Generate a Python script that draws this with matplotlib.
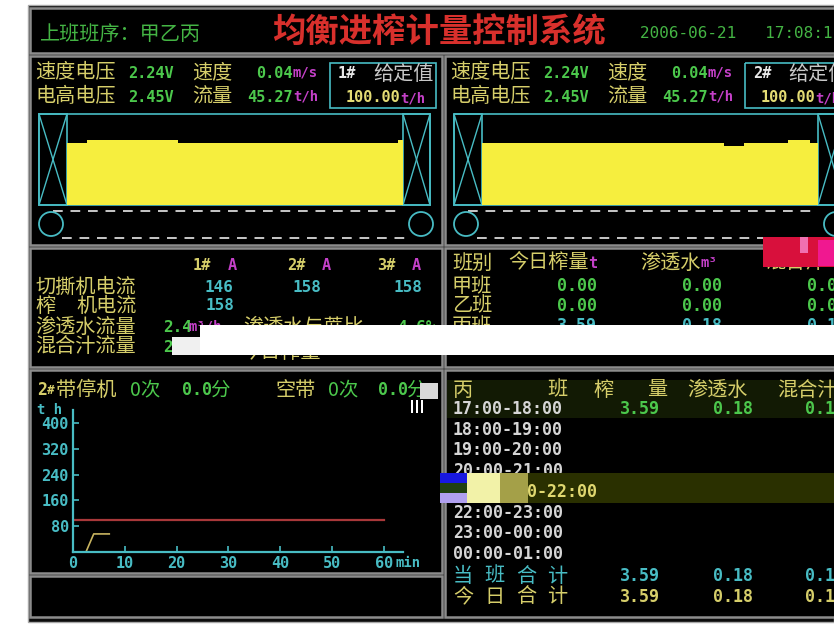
import matplotlib.pyplot as plt
from matplotlib.patches import Rectangle, Circle

plt.rcParams['font.family'] = ['Noto Sans CJK SC', 'DejaVu Sans']

W, H = 834, 626

# ---- data ----
shift_order = "上班班序：甲乙丙"
title = "均衡进榨计量控制系统"
date_time = "2006-06-21   17:08:1"

speed_volt = ["2.24V", "2.24V"]
height_volt = ["2.45V", "2.45V"]
belt_speed = ["0.04", "0.04"]
belt_flow = ["45.27", "45.27"]
set_value = ["100.00", "100.00"]

# belt load profile (position along belt %, load height %)
belt1_edges = [0, 6, 33, 98.5, 100]
belt1_load = [68, 71, 68, 71]
belt2_edges = [0, 72, 78, 91, 97.6, 100]
belt2_load = [68, 65, 68, 71, 68]

cutter_current = ["146", "158", "158"]
mill_current = "158"

shift_names = ["甲班", "乙班", "丙班", "合计"]
shift_cane = ["0.00", "0.00", "3.59", "3.59"]
shift_water = ["0.00", "0.00", "0.18", "0.18"]
shift_juice = ["0.00", "0.00", "0.18", "0.18"]

trend_min = [0, 2.5, 4, 7]
trend_flow = [0, 0, 56, 56]
set_min = [0, 60]
set_flow = [100, 100]

hour_slots = ["17:00-18:00", "18:00-19:00", "19:00-20:00", "20:00-21:00",
              "21:00-22:00", "22:00-23:00", "23:00-00:00", "00:00-01:00"]
hour_cane = ["3.59", "", "", "", "", "", "", ""]
hour_water = ["0.18", "", "", "", "", "", "", ""]
hour_juice = ["0.18", "", "", "", "", "", "", ""]
total_rows = [("当班合计", "3.59", "0.18", "0.18"), ("今日合计", "3.59", "0.18", "0.18")]

YEL = '#d6ce6a'
GRN = '#4cc84c'
MAG = '#c440c8'
CYN = '#48bcc4'
WHT = '#d6d6d6'
RED = '#d8302c'
BELT = '#f6ee3e'

fig = plt.figure(figsize=(W / 100, H / 100), dpi=100)
fig.patch.set_facecolor('white')
ax = fig.add_axes([0, 0, 1, 1])
ax.set_xlim(0, W)
ax.set_ylim(H, 0)
ax.axis('off')


def txt(x, y, s, c, size=14, ha='left', mono=False, z=3, **kw):
    fam = ['DejaVu Sans Mono'] if mono else ['Noto Sans CJK SC', 'DejaVu Sans']
    ax.text(x, y, s, color=c, fontsize=size, ha=ha, va='center', family=fam, zorder=z, **kw)


def panel(x0, y0, x1, y1):
    ax.add_patch(Rectangle((x0, y0), x1 - x0, y1 - y0, facecolor='black',
                           edgecolor='#8c8c8c', lw=1.8, zorder=1))


def inset(x0, y0, x1, y1):
    return fig.add_axes([x0 / W, 1 - y1 / H, (x1 - x0) / W, (y1 - y0) / H])


# outer frame
ax.add_patch(Rectangle((28, 5), W - 28, 617, facecolor='#0c0c0c', edgecolor='#a8a8a8', lw=1, zorder=0))
panel(30, 8, 836, 53)
panel(30, 56, 442, 245)
panel(445, 56, 836, 245)
panel(30, 248, 442, 367)
panel(445, 248, 836, 367)
panel(30, 370, 442, 573)
panel(30, 576, 442, 617)
panel(445, 370, 836, 617)

# header
txt(40, 34, shift_order, '#44b444', 14.5)
txt(272, 32, title, RED, 24, fontweight='bold')
txt(640, 34, date_time, '#44b444', 11.5, mono=True)

# ---- two belt panels ----
for i, (ox, edges, load) in enumerate([(0, belt1_edges, belt1_load), (415, belt2_edges, belt2_load)]):
    txt(35 + ox, 73, "速度电压", YEL, 14.5)
    txt(128 + ox, 73, speed_volt[i], GRN, 11, mono=True, fontweight='bold')
    txt(192 + ox, 73, "速度", YEL, 14.5)
    txt(293 + ox, 73, belt_speed[i], GRN, 11, ha='right', mono=True, fontweight='bold')
    txt(293 + ox, 73, "m/s", MAG, 10, mono=True, fontweight='bold')
    txt(35 + ox, 97, "电高电压", YEL, 14.5)
    txt(128 + ox, 97, height_volt[i], GRN, 11, mono=True, fontweight='bold')
    txt(192 + ox, 97, "流量", YEL, 14.5)
    txt(293 + ox, 97, belt_flow[i], GRN, 11, ha='right', mono=True, fontweight='bold')
    txt(293 + ox, 97, "t/h", MAG, 10, mono=True, fontweight='bold')
    ax.add_patch(Rectangle((330 + ox, 63), 106, 45, fill=False, ec=CYN, lw=1.2, zorder=2))
    txt(338 + ox, 74, f"{i + 1}#", '#e8e8e8', 11, mono=True, fontweight='bold')
    txt(373 + ox, 74, "给定值", '#c8c8c8', 14.5)
    txt(400 + ox, 98, set_value[i], '#e4dc74', 11, ha='right', mono=True, fontweight='bold')
    txt(400 + ox, 98, "t/h", MAG, 10, mono=True, fontweight='bold')

    # conveyor frame
    x0, x1 = 39 + ox, 430 + ox
    ax.add_patch(Rectangle((x0, 114), x1 - x0, 91, fill=False, ec=CYN, lw=1.2, zorder=2))
    for a, b in [(x0, x0 + 28), (x1 - 27, x1)]:
        ax.add_patch(Rectangle((a, 114), b - a, 91, fill=False, ec=CYN, lw=1.2, zorder=2))
        ax.plot([a, b], [114, 205], color=CYN, lw=1, zorder=2)
        ax.plot([a, b], [205, 114], color=CYN, lw=1, zorder=2)
    ax.plot([x0 + 14, x1 - 27], [211, 211], color='#c8c8c8', lw=1.4, dashes=(5, 4), zorder=2)
    ax.plot([x0 + 23, x1 - 20], [238, 238], color='#c8c8c8', lw=1.4, dashes=(5, 4), zorder=2)
    ax.add_patch(Circle((x0 + 12, 224), 12, fill=False, ec=CYN, lw=1.3, zorder=2))
    ax.add_patch(Circle((x1 - 9, 224), 12, fill=False, ec=CYN, lw=1.3, zorder=2))

    b = inset(x0 + 28, 114, x1 - 27, 205)
    b.stairs(load, edges, fill=True, color=BELT)
    b.set_xlim(0, 100)
    b.set_ylim(0, 100)
    b.axis('off')

# ---- motor currents ----
for k, cx in enumerate([193, 287, 377]):
    txt(cx, 266, f"{k + 1}#", YEL, 11, mono=True, fontweight='bold')
    txt(cx + 35, 266, "A", MAG, 11, mono=True, fontweight='bold')
txt(35, 287, "切撕机电流", YEL, 14.5)
for v, cx in zip(cutter_current, [219, 307, 408]):
    txt(cx, 287, v, CYN, 11.5, ha='center', mono=True, fontweight='bold')
txt(35, 306, "榨", YEL, 14.5)
txt(76, 306, "机电流", YEL, 14.5)
txt(220, 306, mill_current, CYN, 11.5, ha='center', mono=True, fontweight='bold')
txt(35, 327, "渗透水流量", YEL, 14.5)
txt(163, 327, "2.4", GRN, 11.5, mono=True, fontweight='bold')
txt(189, 327, "m³/h", MAG, 10, mono=True, fontweight='bold')
txt(243, 327, "渗透水与蔗比", YEL, 14.5)
txt(397, 327, "4.6%", GRN, 11.5, mono=True, fontweight='bold')
txt(35, 347, "混合汁流量", YEL, 14.5)
txt(163, 347, "2", GRN, 11.5, mono=True, fontweight='bold')
txt(240, 353, "今日榨量", YEL, 14.5)

# ---- shift summary ----
txt(452, 263, "班别", YEL, 14.5)
txt(508, 263, "今日榨量", YEL, 14.5)
txt(588, 263, "t", MAG, 11, mono=True, fontweight='bold')
txt(640, 263, "渗透水", YEL, 14.5)
txt(701, 263, "m³", MAG, 10, mono=True, fontweight='bold')
txt(765, 263, "混合汁", YEL, 14.5)
for r, name in enumerate(shift_names):
    y = 286 + r * 20
    col = GRN if r < 2 else (CYN if r == 2 else YEL)
    txt(452, y, name, YEL, 14.5)
    txt(597, y, shift_cane[r], col, 12, ha='right', mono=True, fontweight='bold')
    txt(722, y, shift_water[r], col, 12, ha='right', mono=True, fontweight='bold')
    txt(807, y, shift_juice[r], col, 12, mono=True, fontweight='bold')

# ---- trend panel ----
txt(37, 390, "2", YEL, 12, mono=True, fontweight='bold')
txt(47, 390, "#", YEL, 9, mono=True, fontweight='bold')
txt(56, 390, "带停机", YEL, 14.5)
txt(130, 390, "0次", GRN, 14)
txt(182, 390, "0.0", GRN, 12, mono=True, fontweight='bold')
txt(210, 390, "分", GRN, 14)
txt(275, 390, "空带", YEL, 14.5)
txt(328, 390, "0次", GRN, 14)
txt(378, 390, "0.0", GRN, 12, mono=True, fontweight='bold')
txt(406, 390, "分", GRN, 14)
txt(37, 410, "t h", CYN, 10, mono=True, fontweight='bold')
txt(396, 563, "min", CYN, 10, mono=True, fontweight='bold')

tr = inset(73, 410, 403, 552)
tr.set_facecolor('none')
tr.plot(set_min, set_flow, color='#a8383a', lw=1.6)
tr.plot(trend_min, trend_flow, color='#c8b460', lw=1.2)
tr.set_xlim(0, 63.7)
tr.set_ylim(0, 440)
tr.set_xticks([0, 10, 20, 30, 40, 50, 60])
tr.set_yticks([80, 160, 240, 320, 400])
for s in ['top', 'right']:
    tr.spines[s].set_visible(False)
for s in ['left', 'bottom']:
    tr.spines[s].set_color(CYN)
    tr.spines[s].set_linewidth(1.6)
tr.tick_params(colors=CYN, direction='in', length=4, width=1.2, pad=3)
for lab in tr.get_xticklabels() + tr.get_yticklabels():
    lab.set_family('DejaVu Sans Mono')
    lab.set_fontweight('bold')
    lab.set_fontsize(11)

# ---- hourly table ----
ax.add_patch(Rectangle((447, 380), 387, 38, facecolor='#121a04', lw=0, zorder=1.5))
for ch, cx in zip("丙班榨量", [453, 547, 593, 647]):
    txt(cx, 390, ch, YEL, 14.5)
txt(687, 390, "渗透水", YEL, 14.5)
txt(777, 390, "混合汁", YEL, 14.5)
for r, slot in enumerate(hour_slots):
    y = 409 + r * 20.7
    if r == 4:
        txt(597, y, slot, '#e0d870', 12, ha='right', mono=True, fontweight='bold', z=6)
    else:
        txt(453, y, slot, WHT, 12, mono=True, fontweight='bold')
    txt(660, y, hour_cane[r], GRN, 12, ha='right', mono=True, fontweight='bold')
    txt(753, y, hour_water[r], GRN, 12, ha='right', mono=True, fontweight='bold')
    txt(805, y, hour_juice[r], GRN, 12, mono=True, fontweight='bold')
for r, (name, c1, c2, c3) in enumerate(total_rows):
    y = 576 + r * 21
    col = CYN if r == 0 else YEL
    for j, ch in enumerate(name):
        txt(453 + j * 31.5, y, ch, col, 14.5)
    txt(660, y, c1, col, 12, ha='right', mono=True, fontweight='bold')
    txt(753, y, c2, col, 12, ha='right', mono=True, fontweight='bold')
    txt(805, y, c3, col, 12, mono=True, fontweight='bold')

# ---- screen capture glitches ----
ax.add_patch(Rectangle((200, 325), 640, 30, facecolor='white', lw=0, zorder=5))
ax.add_patch(Rectangle((172, 337), 28, 18, facecolor='#f0f0f0', lw=0, zorder=5))
ax.add_patch(Rectangle((763, 237), 75, 30, facecolor='#d8103c', lw=0, zorder=5))
ax.add_patch(Rectangle((800, 237), 8, 16, facecolor='#f070b0', lw=0, zorder=5))
ax.add_patch(Rectangle((818, 240), 20, 26, facecolor='#f01890', lw=0, zorder=5))
ax.add_patch(Rectangle((467, 473), 370, 30, facecolor='#2a3000', lw=0, zorder=5))
ax.add_patch(Rectangle((440, 473), 27, 10, facecolor='#1818e0', lw=0, zorder=7))
ax.add_patch(Rectangle((440, 483), 27, 10, facecolor='#204010', lw=0, zorder=7))
ax.add_patch(Rectangle((440, 493), 27, 10, facecolor='#b0a0f0', lw=0, zorder=7))
ax.add_patch(Rectangle((467, 473), 33, 30, facecolor='#f2f2a8', lw=0, zorder=7))
ax.add_patch(Rectangle((500, 473), 28, 30, facecolor='#a4a048', lw=0, zorder=7))
ax.add_patch(Rectangle((420, 383), 18, 16, facecolor='#d8d8d8', lw=0, zorder=5))
for bx in [411, 416, 421]:
    ax.add_patch(Rectangle((bx, 400), 2.5, 13, facecolor='white', lw=0, zorder=5))

fig.savefig('out.png', dpi=100, facecolor='white')
